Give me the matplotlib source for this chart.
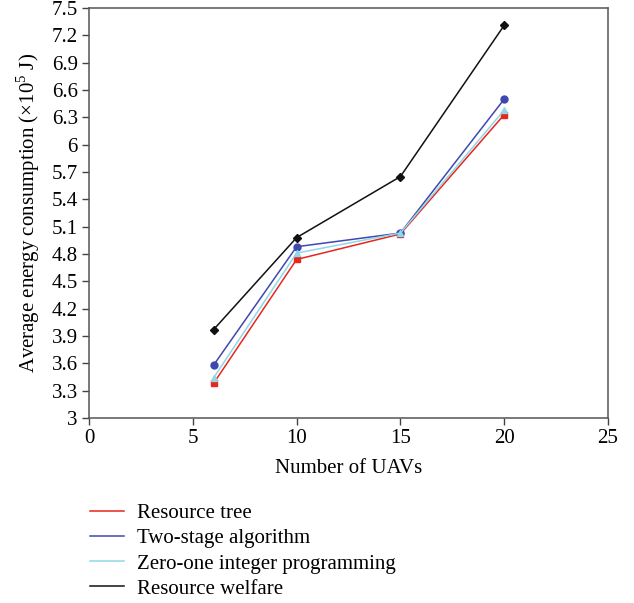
import matplotlib
matplotlib.use("Agg")
import matplotlib.pyplot as plt

# Data
uavs = [6, 10, 15, 20]
resource_tree = [3.38, 4.74, 5.02, 6.33]
two_stage = [3.58, 4.88, 5.03, 6.50]
zero_one = [3.44, 4.81, 5.03, 6.38]
resource_welfare = [3.97, 4.98, 5.65, 7.31]

labels = ["Resource tree", "Two-stage algorithm",
          "Zero-one integer programming", "Resource welfare"]
yticks = [3, 3.3, 3.6, 3.9, 4.2, 4.5, 4.8, 5.1, 5.4, 5.7, 6, 6.3, 6.6, 6.9, 7.2, 7.5]
xticks = [0, 5, 10, 15, 20, 25]

plt.rcParams['font.family'] = ['Liberation Serif', 'DejaVu Serif']
plt.rcParams['mathtext.fontset'] = 'custom'
plt.rcParams['mathtext.rm'] = 'Liberation Serif'
plt.rcParams['font.size'] = 15

fig = plt.figure(figsize=(6.34, 6.03), dpi=100)
ax = fig.add_axes([0.1404, 0.3068, 0.8186, 0.6799])

series = [
    (resource_tree, '#e8251e', 's', 4.6),
    (two_stage, '#3f48b0', 'o', 5),
    (zero_one, '#8fd8e6', '^', 5),
    (resource_welfare, '#111111', 'D', 4.3),
]
for (vals, col, mk, ms), lab in zip(series, labels):
    ax.plot(uavs, vals, color=col, lw=1.1, marker=mk, ms=ms,
            mec=col, mfc=col, label=lab)

ax.set_xlim(0, 25)
ax.set_ylim(3, 7.5)
ax.set_xticks(xticks)
ax.set_yticks(yticks)
ax.set_yticklabels([f"{v:g}" for v in yticks])
ax.tick_params(direction='out', length=5, width=1, color='#444444', pad=3)
for s in ax.spines.values():
    s.set_color('#555555')
    s.set_linewidth(1.1)

ax.set_xlabel("Number of UAVs", labelpad=8)
ax.set_ylabel("Average energy consumption (×10$^5$ J)", labelpad=7)

handles, labs = ax.get_legend_handles_labels()
leg_lines = [plt.Line2D([], [], color=h.get_color(), lw=1.1) for h in handles]
fig.legend(leg_lines, labs, loc='upper left', bbox_to_anchor=(0.142, 0.165),
           frameon=False, borderpad=0, borderaxespad=0, handlelength=1.63,
           handletextpad=0.63, labelspacing=0.27, fontsize=15)

fig.savefig("out.png", dpi=100, facecolor='white')
